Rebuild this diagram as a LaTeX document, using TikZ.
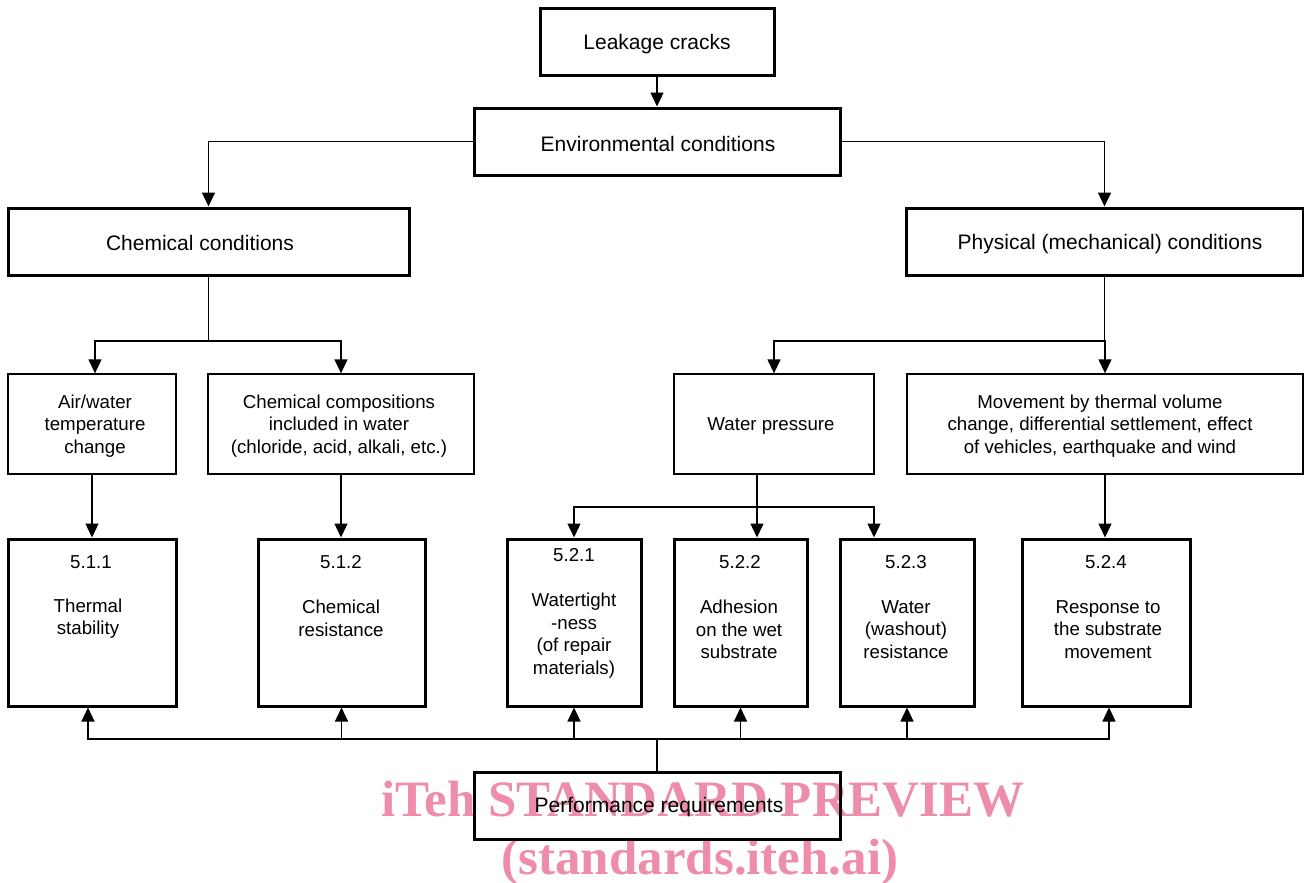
\documentclass[tikz,border=0pt]{standalone}
\usepackage{fontspec}
\setmainfont{Liberation Sans}
\newfontfamily\wmfont{Liberation Serif}
\usetikzlibrary{arrows.meta}
\definecolor{wmpink}{RGB}{238,141,169}
\begin{document}
\begin{tikzpicture}[x=1pt,y=-1pt,
  thickbox/.style={draw, line width=3pt, inner sep=0pt},
  thinbox/.style={draw, line width=1.3pt, inner sep=0pt},
  conn/.style={line width=1.3pt},
  arr/.style={line width=1.3pt, -{Triangle[length=14pt,width=13pt]}},
  bigtxt/.style={font=\fontsize{21}{25}\selectfont, inner sep=0pt, align=center, yshift=-2pt},
  smalltxt/.style={font=\fontsize{18.7}{22.5}\selectfont, inner sep=0pt, align=center, yshift=-2pt},
  wm/.style={font=\wmfont\bfseries\fontsize{51}{51}\selectfont, text=wmpink, inner sep=0pt, anchor=base}]
\useasboundingbox (0,0) rectangle (1304,883);

% watermark (behind)
\node[wm] (wm1) at (703,816) {iTeh STANDARD PREVIEW};
\node[wm] (wm2) at (700,874) {(standards.iteh.ai)};

% top level boxes
\node[thickbox, minimum width=234pt, minimum height=67pt] (leak) at (657,42.5) {};
\node[thickbox, minimum width=366pt, minimum height=67pt] (env) at (657,141.5) {};
\node[thickbox, minimum width=401pt, minimum height=67pt] (chem) at (208.5,241.5) {};
\node[thickbox, minimum width=397pt, minimum height=67pt] (phys) at (1104.5,241.5) {};
\node[bigtxt] (tleak) at (657,42) {Leakage cracks};
\node[bigtxt] (tenv) at (658,142) {Environmental conditions};
\node[bigtxt] (tchem) at (200,241) {Chemical conditions};
\node[bigtxt] (tphys) at (1110,242) {Physical (mechanical) conditions};

% middle boxes
\node[thinbox, minimum width=168pt, minimum height=100pt] (air) at (92,424) {};
\node[thinbox, minimum width=266pt, minimum height=100pt] (comp) at (341,424) {};
\node[thinbox, minimum width=200pt, minimum height=100pt] (wp) at (774,424) {};
\node[thinbox, minimum width=396pt, minimum height=100pt] (mov) at (1105,424) {};
\node[smalltxt] (tair) at (95,424) {Air/water\\temperature\\change};
\node[smalltxt] (tcomp) at (339,424) {Chemical compositions\\included in water\\(chloride, acid, alkali, etc.)};
\node[smalltxt] (twp) at (771,424) {Water pressure};
\node[smalltxt] (tmov) at (1100,424) {Movement by thermal volume\\change, differential settlement, effect\\of vehicles, earthquake and wind};

% bottom boxes
\node[thickbox, minimum width=168pt, minimum height=167pt] (b511) at (92,622.5) {};
\node[thickbox, minimum width=167pt, minimum height=167pt] (b512) at (341.5,622.5) {};
\node[thickbox, minimum width=134pt, minimum height=167pt] (b521) at (574,622.5) {};
\node[thickbox, minimum width=133pt, minimum height=167pt] (b522) at (740.5,622.5) {};
\node[thickbox, minimum width=134pt, minimum height=167pt] (b523) at (907,622.5) {};
\node[thickbox, minimum width=168pt, minimum height=167pt] (b524) at (1106,622.5) {};

\node[smalltxt] (n511) at (91,560) {5.1.1};
\node[smalltxt] (n512) at (341,560) {5.1.2};
\node[smalltxt] (n521) at (574,553) {5.2.1};
\node[smalltxt] (n522) at (740,560) {5.2.2};
\node[smalltxt] (n523) at (906,560) {5.2.3};
\node[smalltxt] (n524) at (1106,560) {5.2.4};

\node[smalltxt] (t511) at (88,616.5) {Thermal\\stability};
\node[smalltxt] (t512) at (341,616.5) {Chemical\\resistance};
\node[smalltxt] (t521) at (574,633.5) {Watertight\\-ness\\(of repair\\materials)};
\node[smalltxt] (t522) at (739,627.5) {Adhesion\\on the wet\\substrate};
\node[smalltxt] (t523) at (906,627.5) {Water\\(washout)\\resistance};
\node[smalltxt] (t524) at (1108,627.5) {Response to\\the substrate\\movement};

% performance
\node[thickbox, minimum width=366pt, minimum height=67pt] (perf) at (657,805.5) {};
\node[bigtxt] (tperf) at (659,805) {Performance requirements};

% connectors top
\draw[arr] (leak) -- (env);
\draw[arr] (env.west) -| (chem.north);
\draw[arr] (env.east) -| (phys.north);

\coordinate (j1) at (208.5,341);
\draw[conn] (chem.south) -- (j1);
\draw[arr] (j1) -| ([xshift=3pt]air.north);
\draw[arr] (j1) -| (comp.north);

\coordinate (j2) at (1104.5,341);
\draw[conn] (phys.south) -- (j2);
\draw[arr] (j2) -| (wp.north);
\draw[arr] (j2) -| (mov.north);

\draw[arr] (air) -- (b511);
\draw[arr] (comp.south) -- (comp.south |- b512.north);

\coordinate (j3) at (757,507);
\draw[arr] (j3 |- wp.south) -- (j3 |- b522.north);
\draw[arr] (j3) -| (b521.north);
\draw[arr] (j3) -| ([xshift=-33pt]b523.north);

\draw[arr] (mov.south) -- (mov.south |- b524.north);

% connectors bottom
\coordinate (j4) at (657,739);
\draw[conn] (perf.north) -- (j4);
\draw[arr] (j4) -| ([xshift=-4pt]b511.south);
\draw[arr] (j4) -| (b512.south);
\draw[arr] (j4) -| (b521.south);
\draw[arr] (j4) -| (b522.south);
\draw[arr] (j4) -| (b523.south);
\draw[arr] (j4) -| ([xshift=3pt]b524.south);
\end{tikzpicture}
\end{document}
